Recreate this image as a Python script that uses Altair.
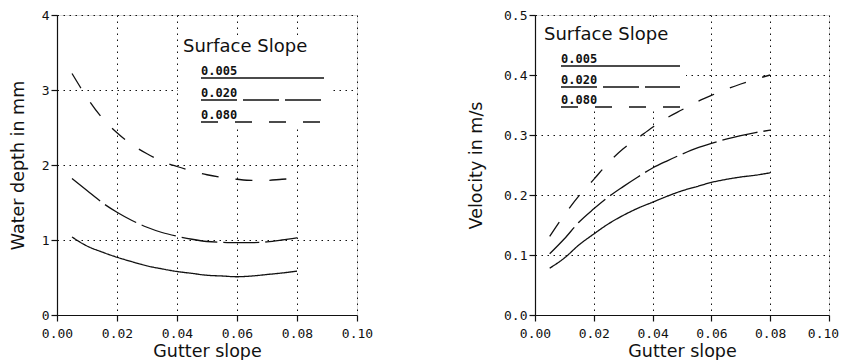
import altair as alt
import pandas as pd

# ---- data ----
gutter_slope = [0.005, 0.01, 0.015, 0.02, 0.025, 0.03, 0.035, 0.04,
                0.045, 0.05, 0.055, 0.06, 0.065, 0.07, 0.075, 0.08]
surface_slopes = ["0.005", "0.020", "0.080"]

depth_005 = [1.04, 0.92, 0.84, 0.77, 0.71, 0.655, 0.615, 0.58,
             0.555, 0.53, 0.52, 0.51, 0.52, 0.54, 0.56, 0.585]
depth_020 = [1.82, 1.66, 1.50, 1.37, 1.26, 1.17, 1.10, 1.05,
             1.01, 0.98, 0.97, 0.965, 0.965, 0.975, 1.0, 1.03]
depth_080 = [3.22, 2.90, 2.63, 2.43, 2.27, 2.15, 2.05, 1.98,
             1.92, 1.87, 1.835, 1.81, 1.795, 1.795, 1.81, 1.82]

vel_005 = [0.078, 0.095, 0.117, 0.135, 0.152, 0.166, 0.178, 0.188,
           0.198, 0.207, 0.214, 0.221, 0.226, 0.230, 0.233, 0.237]
vel_020 = [0.102, 0.127, 0.155, 0.177, 0.197, 0.214, 0.230, 0.245,
           0.257, 0.268, 0.278, 0.286, 0.293, 0.299, 0.304, 0.308]
vel_080 = [0.131, 0.167, 0.199, 0.226, 0.254, 0.277, 0.295, 0.313,
           0.329, 0.342, 0.355, 0.366, 0.376, 0.385, 0.393, 0.400]

x_ticks = [0.0, 0.02, 0.04, 0.06, 0.08, 0.10]
depth_ticks = [0, 1, 2, 3, 4]
vel_ticks = [0.0, 0.1, 0.2, 0.3, 0.4, 0.5]

# ---- styles ----
INK = "#111111"
DASHES = [[1, 0], [36, 6], [17, 17]]
TITLE_FONT = "DejaVu Sans"
TICK_FONT = "DejaVu Sans Mono"


def long_table(series, name):
    rows = []
    for s, vals in zip(surface_slopes, series):
        for x, v in zip(gutter_slope, vals):
            rows.append({"gutter": x, name: v, "surface": s})
    return pd.DataFrame(rows)


depth_df = long_table([depth_005, depth_020, depth_080], "depth")
vel_df = long_table([vel_005, vel_020, vel_080], "vel")

one_row = pd.DataFrame({"k": [0]})


def axis_common(values, fmt, title_pad, label_pad, **extra):
    d = dict(values=values, format=fmt, grid=True, gridColor=INK,
             gridDash=[1.5, 4.5], gridWidth=1, gridOpacity=1,
             domainColor=INK, domainWidth=1.2, tickColor=INK,
             tickSize=6, tickWidth=1.2, labelPadding=label_pad,
             labelFlush=False,
             labelFont=TICK_FONT, labelFontSize=13, labelColor=INK,
             titleFont=TITLE_FONT, titleFontSize=17.5,
             titleFontWeight="normal", titleColor=INK,
             titlePadding=title_pad)
    d.update(extra)
    return d


def panel(df, field, ytitle, ydomain, yticks, yfmt, ytitle_pad, width,
          last_shift, leg):
    x_extra = {}
    if last_shift:
        x_extra["labelOffset"] = {"condition": {"test": "datum.value >= 0.099",
                                                "value": last_shift},
                                  "value": 0}
    x = alt.X("gutter:Q", title="Gutter slope",
              scale=alt.Scale(domain=[0, 0.1], nice=False),
              axis=alt.Axis(**axis_common(x_ticks, ".2f", 2, 6, **x_extra)))
    y = alt.Y(f"{field}:Q", title=ytitle,
              scale=alt.Scale(domain=ydomain, nice=False),
              axis=alt.Axis(**axis_common(yticks, yfmt, ytitle_pad, 2)))

    lines = alt.Chart(df).mark_line(color=INK, strokeWidth=1.3,
                                    interpolate="monotone").encode(
        x=x, y=y,
        strokeDash=alt.StrokeDash("surface:N", legend=None,
                                  scale=alt.Scale(domain=surface_slopes,
                                                  range=DASHES)),
        detail="surface:N",
    )

    bx0, bx1, by0, by1 = leg["box"]
    box = alt.Chart(one_row).mark_rect(color="white").encode(
        x=alt.value(bx0), x2=alt.value(bx1), y=alt.value(by0), y2=alt.value(by1))

    tx, ty = leg["title"]
    ltitle = alt.Chart(one_row).mark_text(
        align="left", baseline="middle", font=TITLE_FONT, fontSize=18,
        color=INK).encode(x=alt.value(tx), y=alt.value(ty),
                          text=alt.value("Surface Slope"))

    layers = [box, lines, ltitle]
    lx0, lx1 = leg["line_x"]
    for s, dash, ly in zip(surface_slopes, DASHES, leg["rows"]):
        layers.append(alt.Chart(one_row).mark_rule(
            color=INK, strokeWidth=1.3, strokeDash=dash).encode(
            x=alt.value(lx0), x2=alt.value(lx1), y=alt.value(ly)))
        layers.append(alt.Chart(one_row).mark_text(
            align="left", baseline="alphabetic", font=TICK_FONT,
            fontSize=12, fontWeight="bold", color=INK).encode(
            x=alt.value(lx0), y=alt.value(ly - 3), text=alt.value(s)))

    return alt.layer(*layers).properties(width=width, height=300)


left = panel(depth_df, "depth", "Water depth in mm", [0, 4], depth_ticks, "d",
             14, 300, 0,
             dict(box=(121, 274, 20, 113), title=(126, 32),
                  line_x=(144, 267), rows=[63, 85, 107]))
right = panel(vel_df, "vel", "Velocity in m/s", [0, 0.5], vel_ticks, ".1f",
              18, 294, -6,
              dict(box=(2, 151, 2, 95), title=(9, 20),
                   line_x=(26, 145), rows=[51, 72, 92]))

chart = alt.hconcat(left, right, spacing=93).properties(
    padding={"left": 0, "top": 0, "right": 0, "bottom": 0}
).configure_view(stroke=INK, strokeWidth=1.2).configure(background="white")

chart.save("out.html", embed_options={"renderer": "svg", "actions": False})
